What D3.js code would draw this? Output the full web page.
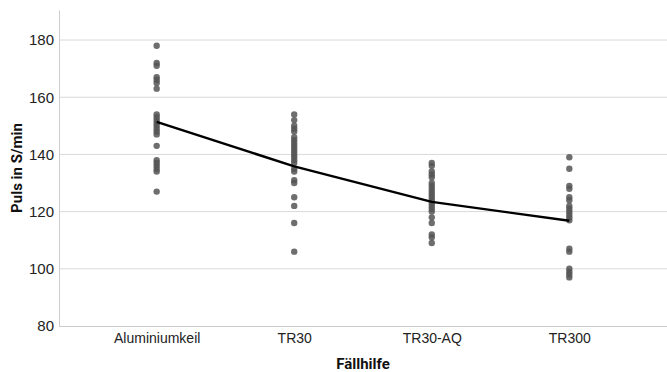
<!DOCTYPE html>
<html>
<head>
<meta charset="utf-8">
<script src="https://cdn.jsdelivr.net/npm/d3@7"></script>
<style>
  body { margin: 0; background: #fff; }
  svg { font-family: Roboto, "Noto Sans", sans-serif; }
</style>
</head>
<body>
<svg id="chart" width="667" height="372"></svg>
<script>
const WIDTH = 667;
const HEIGHT = 372;
const MARGIN = { top: 10, right: 0, bottom: 46, left: 59 };

const CATEGORIES = ["Aluminiumkeil", "TR30", "TR30-AQ", "TR300"];
const Y_TICKS = [80, 100, 120, 140, 160, 180];

const ALUMINIUMKEIL = [178, 172, 171, 167, 166, 165, 163, 154, 153, 152, 151, 150, 149, 148, 147, 143, 138, 137, 136, 135, 134, 127];
const TR30 = [154, 152, 150, 149, 148, 146, 145, 144, 143, 142, 141, 140, 139, 138, 137, 135, 134, 131, 130, 125, 122, 116, 106];
const TR30_AQ = [137, 136, 134, 133, 132, 130, 129, 128, 127, 126, 125, 124, 123, 122, 121, 120, 118, 116, 112, 111, 109];
const TR300 = [139, 135, 129, 128, 125, 124, 122, 121, 120, 119, 118, 117, 107, 106, 100, 99, 98, 97];

// mean line
const MEANS = [151.4, 135.8, 123.4, 116.8];

const SERIES = [ALUMINIUMKEIL, TR30, TR30_AQ, TR300];

const svg = d3.select("#chart");

const x = d3.scalePoint()
    .domain(CATEGORIES)
    .range([MARGIN.left, WIDTH - MARGIN.right])
    .padding(0.71);

const y = d3.scaleLinear()
    .domain([80, 190.5])
    .range([HEIGHT - MARGIN.bottom, MARGIN.top]);

// gridlines
svg.append("g")
    .selectAll("line")
    .data(Y_TICKS.filter((d) => d > 80))
    .enter()
    .append("line")
    .attr("x1", MARGIN.left)
    .attr("x2", WIDTH - MARGIN.right)
    .attr("y1", (d) => y(d))
    .attr("y2", (d) => y(d))
    .attr("stroke", "#d9d9d9")
    .attr("stroke-width", 1);

// y axis
const yAxis = svg.append("g")
    .attr("transform", `translate(${MARGIN.left},0)`)
    .call(d3.axisLeft(y).tickValues(Y_TICKS).tickSize(0).tickPadding(5));
yAxis.select(".domain").attr("stroke", "#cccccc");
yAxis.selectAll("text")
    .attr("font-size", 15)
    .attr("fill", "#222");

// x axis
const xAxis = svg.append("g")
    .attr("transform", `translate(0,${y(80)})`)
    .call(d3.axisBottom(x).tickSize(0).tickPadding(7));
xAxis.select(".domain")
    .attr("stroke", "#cccccc")
    .attr("d", `M${MARGIN.left},0.5H${WIDTH - MARGIN.right}`);
xAxis.selectAll("text")
    .attr("font-size", 14)
    .attr("fill", "#222");

// points
SERIES.forEach((values, i) => {
    svg.append("g")
        .selectAll("circle")
        .data(values)
        .enter()
        .append("circle")
        .attr("cx", x(CATEGORIES[i]))
        .attr("cy", (d) => y(d))
        .attr("r", 3.2)
        .attr("fill", "#555555")
        .attr("fill-opacity", 0.85);
});

// mean line
const line = d3.line()
    .x((d, i) => x(CATEGORIES[i]))
    .y((d) => y(d));

svg.append("path")
    .datum(MEANS)
    .attr("d", line)
    .attr("fill", "none")
    .attr("stroke", "#000")
    .attr("stroke-width", 2.4);

// axis titles
svg.append("text")
    .attr("x", x("TR30") + (x("TR30-AQ") - x("TR30")) / 2)
    .attr("y", 369)
    .attr("text-anchor", "middle")
    .attr("font-size", 15)
    .attr("font-weight", "bold")
    .attr("fill", "#111")
    .text("Fällhilfe");

svg.append("text")
    .attr("transform", `translate(22,${(MARGIN.top + y(80)) / 2}) rotate(-90)`)
    .attr("text-anchor", "middle")
    .attr("font-size", 15)
    .attr("font-weight", "bold")
    .attr("fill", "#111")
    .text("Puls in S/min");
</script>
</body>
</html>
